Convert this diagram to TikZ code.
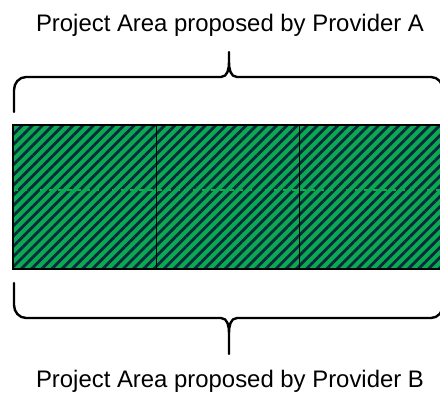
\documentclass[tikz,border=0pt]{standalone}
\usepackage{fontspec}
\setmainfont{Liberation Sans}
\usetikzlibrary{patterns.meta}
\definecolor{areagreen}{RGB}{11,170,80}
\definecolor{stripeblue}{RGB}{8,40,62}
\begin{document}
\begin{tikzpicture}[x=1pt,y=1pt,
    cellfill/.style={preaction={fill=areagreen},
      pattern={Lines[angle=45,distance=7.2pt,line width=2.8pt]},pattern color=stripeblue},
    cellline/.style={draw=black,line width=1.4pt},
    seam/.style={draw=areagreen,line width=1.4pt,dash pattern=on 5pt off 4pt},
    brace/.style={line width=2.4pt,line join=round,line cap=round},
    areatext/.style={anchor=base,font=\fontsize{23.9}{28}\selectfont}]
  \useasboundingbox (0,0) rectangle (440,392);
  \node[areatext] (provA) at (230,360) {Project Area proposed by Provider A};
  \node[areatext] (provB) at (230,5) {Project Area proposed by Provider B};

  \begin{scope}
    \clip (0,0) rectangle (440,392);
    \foreach \x in {13,156.3,299.6}{
      \path[cellfill] (\x,123) rectangle ++(143.3,144);
    }
    \draw[seam] (13,202) -- (443,202);
    \foreach \x in {13,156.3,299.6}{
      \path[cellline] (\x,123) rectangle ++(143.3,144);
    }

    \coordinate (topL) at (14,280);
    \coordinate (topR) at (443,280);
    \draw[brace] (topL) -- (14,302) to[out=90,in=180] (26,315) -- (221,315)
      to[out=0,in=-90] (229,330) -- (229,340) -- (229,330)
      to[out=-90,in=180] (237,315) -- (431,315) to[out=0,in=90] (443,302) -- (topR);

    \coordinate (botL) at (14,109);
    \coordinate (botR) at (443,109);
    \draw[brace] (botL) -- (14,87) to[out=-90,in=180] (26,74) -- (221,74)
      to[out=0,in=90] (229,59) -- (229,38) -- (229,59)
      to[out=90,in=180] (237,74) -- (431,74) to[out=0,in=-90] (443,87) -- (botR);
  \end{scope}
\end{tikzpicture}
\end{document}
